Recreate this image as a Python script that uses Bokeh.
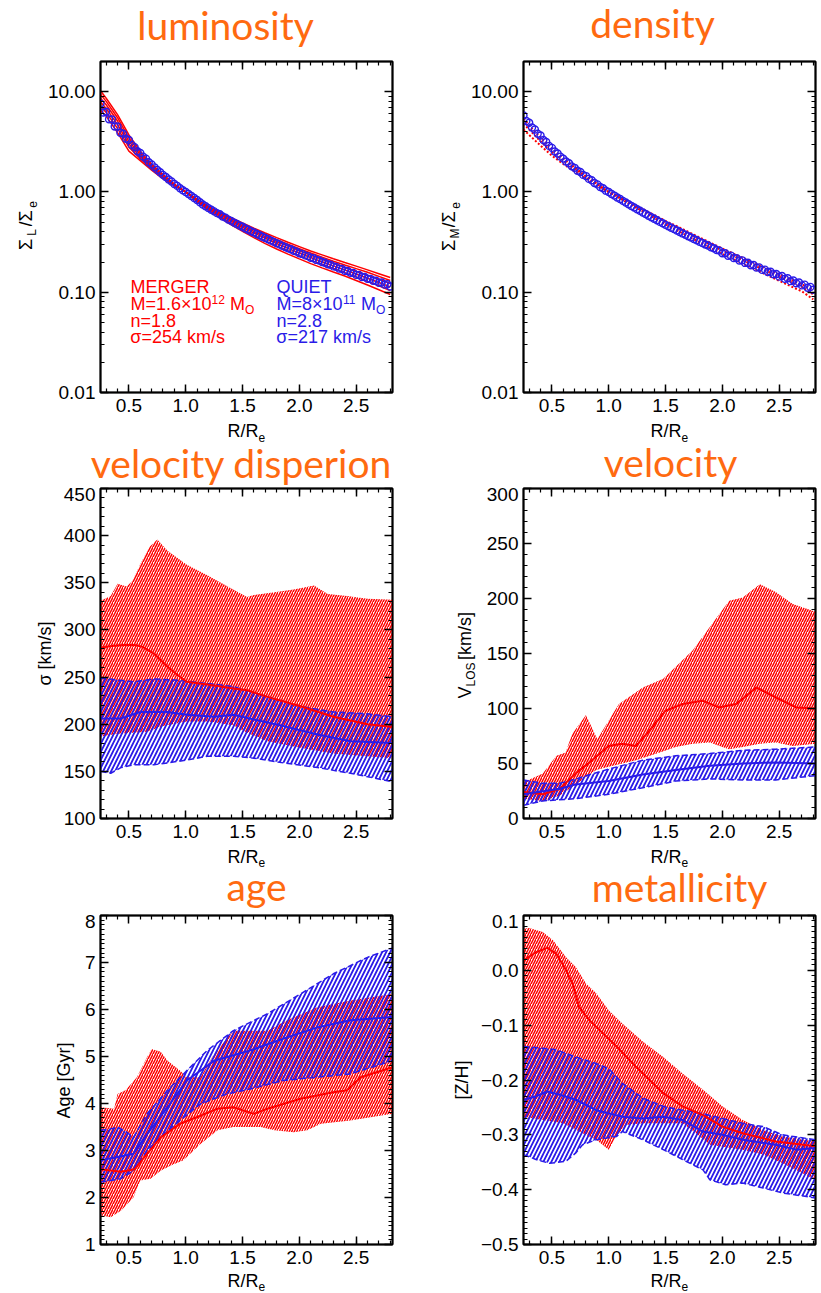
import math
from bokeh.plotting import figure
from bokeh.models import (Range1d, Label, LinearAxis, LogAxis, FixedTicker,
                          SingleIntervalTicker, PrintfTickFormatter, CustomJSTickFormatter)
from bokeh.layouts import row, column
from bokeh.embed import file_html
from bokeh.resources import INLINE

# ---------------------------------------------------------------- data
G = [0.25, 0.3, 0.4, 0.5, 0.6, 0.7, 0.8, 0.9, 1.0, 1.1, 1.2, 1.3, 1.4, 1.5,
     1.6, 1.7, 1.8, 1.9, 2.0, 2.1, 2.2, 2.3, 2.4, 2.5, 2.6, 2.7, 2.8]

# luminosity: merger profiles (red lines)
lum_red = [
    [10.2, 8.6, 5.9, 3.7, 2.55, 1.9, 1.5, 1.2, 1.0, 0.8, 0.66, 0.555, 0.47, 0.405, 0.35, 0.305, 0.27, 0.24, 0.215, 0.193, 0.175, 0.159, 0.145, 0.131, 0.118, 0.106, 0.095],
    [9.4, 8.0, 5.5, 3.45, 2.45, 1.85, 1.47, 1.19, 1.0, 0.81, 0.68, 0.575, 0.49, 0.425, 0.37, 0.325, 0.29, 0.259, 0.232, 0.209, 0.19, 0.173, 0.157, 0.142, 0.128, 0.116, 0.104],
    [8.6, 7.4, 5.1, 3.2, 2.35, 1.8, 1.44, 1.18, 1.0, 0.82, 0.69, 0.59, 0.51, 0.445, 0.39, 0.345, 0.306, 0.274, 0.246, 0.222, 0.201, 0.183, 0.167, 0.152, 0.138, 0.125, 0.113],
    [7.9, 6.8, 4.7, 3.0, 2.25, 1.75, 1.41, 1.17, 1.0, 0.83, 0.70, 0.605, 0.525, 0.46, 0.405, 0.36, 0.321, 0.288, 0.259, 0.234, 0.213, 0.194, 0.177, 0.162, 0.148, 0.135, 0.122],
    [7.2, 6.2, 4.3, 2.8, 2.15, 1.7, 1.38, 1.16, 1.0, 0.84, 0.71, 0.62, 0.54, 0.475, 0.42, 0.375, 0.335, 0.301, 0.272, 0.246, 0.224, 0.204, 0.187, 0.172, 0.158, 0.144, 0.131],
    [6.5, 5.7, 3.9, 2.55, 2.05, 1.65, 1.35, 1.15, 1.0, 0.85, 0.72, 0.63, 0.555, 0.49, 0.435, 0.39, 0.35, 0.315, 0.285, 0.258, 0.236, 0.216, 0.198, 0.182, 0.167, 0.153, 0.14],
]
RA = [0.25, 0.30, 0.35, 0.40, 0.45, 0.50, 0.55, 0.60, 0.65, 0.70, 0.75, 0.80, 0.85, 0.90, 0.95, 1.00, 1.05, 1.10,
      1.15, 1.20, 1.25, 1.30, 1.35, 1.40, 1.45, 1.50, 1.55, 1.60, 1.65, 1.70, 1.75, 1.80, 1.85, 1.90, 1.95, 2.00,
      2.05, 2.10, 2.15, 2.20, 2.25, 2.30, 2.35, 2.40, 2.45, 2.50, 2.55, 2.60, 2.65, 2.70, 2.75, 2.80]
RB = [0.275, 0.325, 0.375, 0.425, 0.475, 0.525, 0.575, 0.625, 0.675, 0.725, 0.775, 0.825, 0.875, 0.925, 0.975,
      1.025, 1.075, 1.125, 1.175, 1.225, 1.275, 1.325, 1.375, 1.425, 1.475, 1.525, 1.575, 1.625, 1.675, 1.725,
      1.775, 1.825, 1.875, 1.925, 1.975, 2.025, 2.075, 2.125, 2.175, 2.225, 2.275, 2.325, 2.375, 2.425, 2.475,
      2.525, 2.575, 2.625, 2.675, 2.725, 2.775]
lum_blue_a = [7.6, 6.3, 5.3, 4.5, 3.8, 3.3, 2.8, 2.45, 2.15, 1.88, 1.66, 1.48, 1.33, 1.2, 1.09, 1.0, 0.91, 0.83,
              0.75, 0.69, 0.64, 0.6, 0.555, 0.515, 0.48, 0.45, 0.42, 0.395, 0.37, 0.348, 0.327, 0.308, 0.29, 0.274,
              0.259, 0.245, 0.233, 0.221, 0.21, 0.2, 0.19, 0.181, 0.172, 0.164, 0.156, 0.149, 0.142, 0.136, 0.13,
              0.124, 0.119, 0.114]
lum_blue_b = [6.2, 5.3, 4.5, 3.9, 3.4, 2.95, 2.55, 2.25, 1.98, 1.76, 1.57, 1.41, 1.27, 1.15, 1.04, 0.955, 0.87,
              0.79, 0.72, 0.665, 0.615, 0.57, 0.53, 0.495, 0.462, 0.433, 0.406, 0.381, 0.358, 0.337, 0.318, 0.3,
              0.283, 0.268, 0.254, 0.241, 0.229, 0.218, 0.207, 0.197, 0.188, 0.179, 0.171, 0.163, 0.156, 0.149,
              0.142, 0.136, 0.13, 0.125, 0.12]

# density
den_red = [
    [4.2, 3.7, 2.9, 2.3, 1.9, 1.6, 1.35, 1.15, 1.0, 0.86, 0.74, 0.64, 0.55, 0.475, 0.415, 0.36, 0.315, 0.275, 0.24, 0.213, 0.188, 0.167, 0.147, 0.13, 0.115, 0.102, 0.085],
    [4.8, 4.2, 3.2, 2.5, 2.05, 1.7, 1.42, 1.18, 1.0, 0.87, 0.76, 0.66, 0.575, 0.5, 0.44, 0.385, 0.338, 0.296, 0.26, 0.23, 0.204, 0.181, 0.161, 0.143, 0.127, 0.113, 0.095],
    [5.4, 4.6, 3.5, 2.7, 2.15, 1.76, 1.45, 1.2, 1.0, 0.88, 0.77, 0.675, 0.59, 0.515, 0.455, 0.4, 0.352, 0.31, 0.273, 0.242, 0.215, 0.191, 0.17, 0.151, 0.134, 0.12, 0.105],
]
den_blue_a = [5.8, 4.9, 4.2, 3.65, 3.15, 2.75, 2.42, 2.15, 1.93, 1.74, 1.58, 1.44, 1.31, 1.19, 1.09, 1.0, 0.92, 0.85,
              0.785, 0.725, 0.672, 0.624, 0.58, 0.54, 0.503, 0.47, 0.44, 0.412, 0.386, 0.362, 0.34, 0.318, 0.299,
              0.281, 0.264, 0.245, 0.231, 0.219, 0.207, 0.196, 0.186, 0.176, 0.167, 0.159, 0.151, 0.143, 0.136,
              0.129, 0.123, 0.117, 0.111, 0.106]
den_blue_b = [5.1, 4.4, 3.8, 3.3, 2.88, 2.53, 2.25, 2.01, 1.8, 1.63, 1.48, 1.35, 1.23, 1.12, 1.03, 0.955, 0.88,
              0.815, 0.755, 0.7, 0.65, 0.603, 0.56, 0.522, 0.487, 0.455, 0.426, 0.399, 0.374, 0.351, 0.33, 0.31,
              0.292, 0.275, 0.26, 0.245, 0.232, 0.219, 0.208, 0.197, 0.187, 0.177, 0.168, 0.16, 0.152, 0.145,
              0.138, 0.131, 0.125, 0.119, 0.113]

# velocity dispersion  [km/s]
disp = dict(
    red_up_R=[0.25, 0.34, 0.40, 0.48, 0.53, 0.60, 0.68, 0.75, 0.84, 1.01, 1.19, 1.37, 1.54, 1.60, 1.78, 1.95, 2.13, 2.25, 2.42, 2.60, 2.82],
    red_up=[331, 336, 349, 346, 352, 370, 388, 396, 384, 369, 358, 346, 335, 337, 340, 343, 347, 338, 336, 333, 332],
    red_lo_R=[0.25, 0.40, 0.54, 0.66, 0.80, 1.01, 1.20, 1.42, 1.54, 1.72, 2.01, 2.30, 2.60, 2.82],
    red_lo=[187, 190, 191, 192, 198, 203, 203, 199, 191, 182, 175, 169, 166, 164],
    red_med_R=[0.25, 0.35, 0.45, 0.55, 0.62, 0.72, 0.84, 0.93, 1.01, 1.19, 1.42, 1.54, 1.72, 2.01, 2.30, 2.60, 2.82],
    red_med=[281, 283, 284, 284, 282, 275, 261, 252, 245, 242, 238, 236, 229, 219, 208, 200, 197],
    blue_up_R=[0.25, 0.54, 0.72, 0.90, 1.13, 1.42, 1.72, 2.01, 2.30, 2.60, 2.82],
    blue_up=[249, 245, 248, 247, 244, 240, 229, 219, 213, 211, 208],
    blue_lo_R=[0.25, 0.34, 0.43, 0.54, 0.72, 0.84, 1.01, 1.19, 1.42, 1.60, 1.86, 2.16, 2.45, 2.82],
    blue_lo=[150, 148, 154, 157, 157, 159, 162, 166, 166, 164, 159, 154, 148, 139],
    blue_med_R=[0.25, 0.43, 0.60, 0.84, 1.01, 1.25, 1.42, 1.60, 1.86, 2.16, 2.45, 2.82],
    blue_med=[206, 206, 213, 213, 210, 208, 210, 205, 198, 189, 182, 180],
)

# line-of-sight velocity [km/s]
vel = dict(
    red_up_R=[0.25, 0.42, 0.54, 0.62, 0.68, 0.80, 0.90, 1.00, 1.09, 1.30, 1.48, 1.59, 1.74, 1.89, 2.06, 2.18, 2.33, 2.47, 2.62, 2.82],
    red_up=[33, 41, 57, 60, 77, 94, 72, 89, 104, 119, 127, 138, 153, 174, 198, 201, 213, 206, 195, 188],
    red_lo_R=[0.25, 0.42, 0.57, 0.71, 0.89, 1.00, 1.24, 1.45, 1.59, 1.74, 1.89, 2.00, 2.06, 2.18, 2.33, 2.47, 2.62, 2.82],
    red_lo=[18, 16, 21, 31, 44, 47, 53, 60, 65, 68, 69, 65, 63, 65, 68, 69, 66, 68],
    red_med_R=[0.25, 0.42, 0.57, 0.71, 0.83, 1.00, 1.12, 1.24, 1.36, 1.50, 1.65, 1.83, 1.97, 2.12, 2.30, 2.47, 2.65, 2.82],
    red_med=[24, 22, 27, 41, 51, 66, 68, 66, 80, 98, 104, 107, 101, 104, 119, 110, 101, 100],
    blue_up_R=[0.25, 0.42, 0.57, 0.71, 1.00, 1.30, 1.59, 1.89, 2.18, 2.47, 2.82],
    blue_up=[35, 32, 32, 36, 45, 53, 57, 59, 62, 63, 65],
    blue_lo_R=[0.25, 0.42, 0.71, 1.00, 1.30, 1.59, 1.89, 2.18, 2.47, 2.82],
    blue_lo=[12, 16, 18, 22, 28, 34, 36, 35, 35, 39],
    blue_med_R=[0.25, 0.57, 0.71, 1.00, 1.30, 1.59, 1.89, 2.18, 2.47, 2.82],
    blue_med=[22, 27, 31, 34, 40, 44, 48, 50, 51, 50],
)

# age [Gyr]
age = dict(
    red_up_R=[0.25, 0.37, 0.40, 0.47, 0.57, 0.66, 0.70, 0.78, 0.84, 0.95, 1.01, 1.13, 1.25, 1.42, 1.72, 1.89, 2.16, 2.45, 2.82],
    red_up=[3.92, 3.89, 4.2, 4.28, 4.56, 4.99, 5.16, 5.1, 4.91, 4.70, 4.56, 4.56, 5.06, 5.55, 5.55, 5.77, 6.05, 6.19, 6.33],
    red_lo_R=[0.25, 0.34, 0.43, 0.54, 0.60, 0.69, 0.78, 0.87, 0.98, 1.13, 1.28, 1.42, 1.66, 1.78, 1.95, 2.07, 2.19, 2.45, 2.82],
    red_lo=[1.62, 1.58, 1.72, 2.0, 2.36, 2.4, 2.57, 2.68, 2.79, 3.14, 3.43, 3.5, 3.5, 3.43, 3.39, 3.43, 3.57, 3.64, 3.78],
    red_med_R=[0.25, 0.43, 0.55, 0.65, 0.78, 0.95, 1.13, 1.28, 1.42, 1.60, 1.72, 2.01, 2.30, 2.42, 2.54, 2.82],
    red_med=[2.6, 2.55, 2.6, 2.9, 3.28, 3.57, 3.74, 3.89, 3.92, 3.78, 3.89, 4.1, 4.24, 4.28, 4.56, 4.77],
    blue_up_R=[0.25, 0.34, 0.40, 0.48, 0.54, 0.66, 0.84, 1.01, 1.19, 1.42, 1.72, 2.01, 2.30, 2.60, 2.82],
    blue_up=[3.43, 3.46, 3.5, 3.39, 3.28, 3.78, 4.28, 4.70, 5.13, 5.55, 5.91, 6.33, 6.76, 7.11, 7.31],
    blue_lo_R=[0.25, 0.34, 0.43, 0.54, 0.66, 0.78, 0.95, 1.13, 1.36, 1.57, 1.86, 2.16, 2.45, 2.82],
    blue_lo=[2.33, 2.36, 2.4, 2.57, 3.0, 3.28, 3.64, 3.99, 4.2, 4.31, 4.49, 4.56, 4.63, 4.91],
    blue_med_R=[0.25, 0.40, 0.54, 0.66, 0.84, 1.01, 1.25, 1.57, 1.86, 2.16, 2.45, 2.82],
    blue_med=[2.79, 2.86, 2.93, 3.35, 3.92, 4.49, 4.91, 5.13, 5.38, 5.62, 5.77, 5.84],
)

# metallicity [Z/H]
met = dict(
    red_up_R=[0.25, 0.30, 0.42, 0.51, 0.625, 0.71, 0.80, 0.89, 1.0, 1.12, 1.30, 1.48, 1.65, 1.83, 2.0, 2.18, 2.36, 2.53, 2.82],
    red_up=[0.076, 0.077, 0.07, 0.055, 0.024, 0.006, -0.024, -0.042, -0.073, -0.097, -0.13, -0.158, -0.188, -0.218, -0.248, -0.273, -0.291, -0.303, -0.312],
    red_lo_R=[0.25, 0.42, 0.60, 0.77, 0.89, 1.0, 1.065, 1.15, 1.30, 1.48, 1.65, 1.77, 1.89, 2.18, 2.36, 2.53, 2.82],
    red_lo=[-0.267, -0.273, -0.279, -0.297, -0.309, -0.327, -0.303, -0.282, -0.279, -0.279, -0.279, -0.297, -0.318, -0.327, -0.336, -0.352, -0.382],
    red_med_R=[0.25, 0.36, 0.46, 0.54, 0.625, 0.68, 0.74, 0.83, 0.95, 1.07, 1.24, 1.36, 1.48, 1.65, 1.83, 2.0, 2.18, 2.47, 2.82],
    red_med=[0.018, 0.033, 0.041, 0.03, 0.0, -0.024, -0.067, -0.091, -0.115, -0.139, -0.176, -0.2, -0.224, -0.248, -0.264, -0.285, -0.297, -0.312, -0.321],
    blue_up_R=[0.25, 0.42, 0.54, 0.71, 0.89, 1.0, 1.12, 1.30, 1.48, 1.65, 1.80, 2.0, 2.18, 2.36, 2.53, 2.82],
    blue_up=[-0.139, -0.142, -0.145, -0.158, -0.17, -0.179, -0.206, -0.233, -0.248, -0.255, -0.26, -0.27, -0.279, -0.285, -0.3, -0.309],
    blue_lo_R=[0.25, 0.36, 0.48, 0.625, 0.71, 0.77, 0.89, 1.07, 1.12, 1.30, 1.48, 1.65, 1.83, 1.89, 2.03, 2.18, 2.36, 2.53, 2.82],
    blue_lo=[-0.336, -0.345, -0.352, -0.348, -0.333, -0.318, -0.309, -0.303, -0.294, -0.309, -0.327, -0.345, -0.364, -0.382, -0.391, -0.388, -0.397, -0.406, -0.415],
    blue_med_R=[0.25, 0.36, 0.46, 0.57, 0.71, 0.89, 1.12, 1.30, 1.48, 1.65, 1.83, 2.0, 2.18, 2.47, 2.65, 2.82],
    blue_med=[-0.236, -0.23, -0.221, -0.227, -0.236, -0.255, -0.267, -0.27, -0.267, -0.273, -0.294, -0.3, -0.309, -0.318, -0.327, -0.324],
)

titles = ["luminosity", "density", "velocity disperion", "velocity", "age", "metallicity"]
LOG_TICKS = [0.01, 0.1, 1.0, 10.0]
LOG_MINOR = [0.02, 0.03, 0.04, 0.05, 0.06, 0.07, 0.08, 0.09, 0.2, 0.3, 0.4, 0.5, 0.6, 0.7, 0.8, 0.9,
             2, 3, 4, 5, 6, 7, 8, 9, 20]
merger_text = ["MERGER", "M=1.6×10", "12", "n=1.8", "σ=254 km/s"]
quiet_text = ["QUIET", "M=8×10", "11", "n=2.8", "σ=217 km/s"]

# ---------------------------------------------------------------- style
RED = "#FF0000"
BLUE = "#2A1BE8"
ORANGE = "#FF6A10"
FONT = "Liberation Sans"
TFONT = "Lato"
X_RANGE = (0.25, 2.82)
FW = 292
W = 821
MID = 0.3465     # baseline -> box middle, Liberation Sans (em)
TMID = 0.387     # same for Lato
HALF = math.pi / 2

CW = {'R': .722, '/': .278, 'Σ': .62, 'L': .556, 'e': .556, 'M': .833, 'V': .667, 'O': .778, 'S': .667,
      ' ': .278, '[': .278, ']': .278, 'k': .5, 'm': .833, 's': .5, 'σ': .6, 'A': .667, 'g': .556,
      'G': .778, 'y': .5, 'r': .333, 'Z': .611, 'H': .722, '=': .584, '.': .278, '×': .584, 'n': .556,
      'E': .667, 'Q': .778, 'U': .722, 'I': .278, 'T': .611}


def text_w(t, size):
    return sum(CW.get(c, .556) for c in t) * size


def rich(p, pieces, dx, dy, color="black"):
    """Horizontal composite text; (dx, dy) = baseline start in px from the range start."""
    x0 = p.x_range.start
    y0 = p.y_range.start
    pos = 0.0
    for t, s, sh in pieces:
        lead = text_w(t[:len(t) - len(t.lstrip(" "))], s)
        core = t.strip(" ")
        along = pos + lead + text_w(core, s) / 2
        p.add_layout(Label(x=x0, y=y0, x_offset=dx + along, y_offset=dy + sh + MID * s, text=core,
                           text_font=FONT, text_font_size=f"{s}px", text_color=color,
                           text_align="center", text_baseline="middle"))
        pos += text_w(t, s)


def strip(w, h):
    s = figure(width=w, height=h, x_range=Range1d(0, w), y_range=Range1d(0, h), output_backend="svg",
               toolbar_location=None, title=None, min_border=0, x_axis_type=None, y_axis_type=None,
               outline_line_color=None, background_fill_color="white", border_fill_color="white")
    return s


def ystrip(w, h, pieces, xb, yc):
    """Vertical (rotated) axis title: one sub-figure per text piece, stacked bottom-to-top.
    xb = baseline x, yc = centre of the title measured from the strip top."""
    lens = [max(12, round(text_w(t, s))) for t, s, _ in pieces]
    total = sum(lens)
    top = int(round(yc - total / 2))
    bottom = h - top - total
    parts = [strip(w, top)]
    for (t, s, sh), L in reversed(list(zip(pieces, lens))):
        f = strip(w, L)
        lead = text_w(t[:len(t) - len(t.lstrip(" "))], s)
        core = t.strip(" ")
        cw = text_w(core, s)
        yy = lead + cw / 2 if L > lead + cw + 0.5 and lead > 0 else L / 2
        f.add_layout(Label(x=xb - sh - MID * s, y=yy, text=core, angle=HALF,
                           text_font=FONT, text_font_size=f"{s}px", text_color="black",
                           text_align="center", text_baseline="middle"))
        parts.append(f)
    parts.append(strip(w, bottom))
    return column(*parts)


def style_axis(ax, labels=True):
    ax.axis_line_color = "black"
    ax.axis_line_width = 1.5
    ax.major_tick_in = 8
    ax.major_tick_out = 0
    ax.minor_tick_in = 4
    ax.minor_tick_out = 0
    ax.major_tick_line_color = "black"
    ax.minor_tick_line_color = "black"
    ax.major_tick_line_width = 1.5
    ax.minor_tick_line_width = 1.2
    ax.major_label_text_font = FONT
    ax.major_label_text_font_size = "19px"
    ax.major_label_text_color = "black"
    if not labels:
        ax.formatter = CustomJSTickFormatter(code="return '';")
        ax.major_label_text_font_size = "0px"
        ax.major_label_standoff = 0


def make_ticker(kind):
    if kind == "x":
        return SingleIntervalTicker(interval=0.5, num_minor_ticks=5)
    if kind == "log":
        return FixedTicker(ticks=LOG_TICKS, minor_ticks=LOG_MINOR)
    return SingleIntervalTicker(interval=kind[0], num_minor_ticks=kind[1])


def make_panel(left, right, top, frame_h, yr, ykind, yfmt):
    log = ykind == "log"
    p = figure(frame_width=FW, frame_height=frame_h, x_range=Range1d(*X_RANGE), y_range=Range1d(*yr),
               y_axis_type="log" if log else "linear", output_backend="svg", toolbar_location=None,
               title=None, min_border_left=left, min_border_right=right, min_border_top=top,
               min_border_bottom=28, background_fill_color="white", border_fill_color="white")
    p.xgrid.visible = False
    p.ygrid.visible = False
    p.outline_line_color = "black"
    p.outline_line_width = 2
    xa = p.xaxis[0]
    xa.ticker = make_ticker("x")
    xa.formatter = PrintfTickFormatter(format="%.1f")
    style_axis(xa)
    xa.major_label_standoff = 6
    ya = p.yaxis[0]
    ya.ticker = make_ticker(ykind)
    if yfmt is not None:
        ya.formatter = yfmt
    style_axis(ya)
    ya.major_label_standoff = 5
    top_ax = LinearAxis(ticker=make_ticker("x"))
    style_axis(top_ax, labels=False)
    p.add_layout(top_ax, "above")
    right_ax = LogAxis(ticker=make_ticker(ykind)) if log else LinearAxis(ticker=make_ticker(ykind))
    style_axis(right_ax, labels=False)
    p.add_layout(right_ax, "right")
    return p


def band(p, d):
    p.patch(d["red_up_R"] + d["red_lo_R"][::-1], d["red_up"] + d["red_lo"][::-1],
            fill_color=None, line_color=None, hatch_pattern="/", hatch_color=RED,
            hatch_weight=1.5, hatch_scale=5)
    p.patch(d["blue_up_R"] + d["blue_lo_R"][::-1], d["blue_up"] + d["blue_lo"][::-1],
            fill_color=None, line_color=None, hatch_pattern="/", hatch_color=BLUE,
            hatch_weight=1.8, hatch_scale=8)
    p.line(d["blue_up_R"], d["blue_up"], line_color=BLUE, line_width=1.5, line_dash="6 3")
    p.line(d["blue_lo_R"], d["blue_lo"], line_color=BLUE, line_width=1.5, line_dash="6 3")
    p.line(d["red_med_R"], d["red_med"], line_color=RED, line_width=2)
    p.line(d["blue_med_R"], d["blue_med"], line_color=BLUE, line_width=2)


fmt_met = CustomJSTickFormatter(code="""
const v = Math.round(tick * 10) / 10;
if (Math.abs(v) < 1e-9) { return '0.0'; }
return (v < 0 ? '\u2212' : '') + Math.abs(v).toFixed(1);
""")

# ---------------------------------------------------------------- panels
p1 = make_panel(56, 18, 6, 331, (0.01, 20), "log", PrintfTickFormatter(format="%.2f"))
p2 = make_panel(58, 6, 6, 331, (0.01, 20), "log", PrintfTickFormatter(format="%.2f"))
for ys in lum_red:
    p1.line(G, ys, line_color=RED, line_width=1.5)
p1.scatter(RA, lum_blue_a, marker="circle", size=7, fill_color=None, line_color=BLUE, line_width=1.4)
p1.scatter(RB, lum_blue_b, marker="circle", size=7, fill_color=None, line_color=BLUE, line_width=1.4)
for ys in den_red:
    p2.line(G, ys, line_color=RED, line_width=2, line_dash="2 2")
p2.scatter(RA, den_blue_a, marker="circle", size=7, fill_color=None, line_color=BLUE, line_width=1.4)
p2.scatter(RB, den_blue_b, marker="circle", size=7, fill_color=None, line_color=BLUE, line_width=1.4)

p3 = make_panel(42, 18, 1, 330, (100, 450), (50, 5), None)
p4 = make_panel(41, 6, 1, 330, (0, 300), (50, 5), None)
band(p3, disp)
band(p4, vel)

p5 = make_panel(22, 18, 1, 329, (1, 8), (1, 10), None)
p6 = make_panel(47, 6, 1, 329, (-0.5, 0.1), (0.1, 10), fmt_met)
band(p5, age)
band(p6, met)

# legend text in the luminosity panel
for dx, txt, col in [(30, merger_text, RED), (176, quiet_text, BLUE)]:
    rich(p1, [(txt[0], 18, 0)], dx, 99, color=col)
    rich(p1, [(txt[1], 18, 0), (txt[2], 12, 7), (" M", 18, 0), ("O", 12, -4)], dx, 82, color=col)
    rich(p1, [(txt[3], 18, 0)], dx, 65.5, color=col)
    rich(p1, [(txt[4], 18, 0)], dx, 49, color=col)

# ---------------------------------------------------------------- text strips
XT = [("R/R", 18, 0), ("e", 12, -4)]


def title(s, text, x, y_base):
    s.add_layout(Label(x=x, y=y_base + TMID * 39, text=text, text_font=TFONT, text_font_size="39px",
                       text_color=ORANGE, text_align="center", text_baseline="middle"))


s0 = strip(W, 55)
title(s0, titles[0], 225, 15)
title(s0, titles[1], 652, 17)

s1 = strip(W, 67)
rich(s1, XT, 227, 50)
rich(s1, XT, 650, 50)
title(s1, titles[2], 241, 9)
title(s1, titles[3], 670, 10)

s2 = strip(W, 68)
rich(s2, XT, 227, 51.5)
rich(s2, XT, 650, 51.5)
title(s2, titles[4], 256, 13)
title(s2, titles[5], 679, 12)

s3 = strip(W, 21)
rich(s3, XT, 227, 6.5)
rich(s3, XT, 650, 6.5)

yl1 = ystrip(44, 365, [("Σ", 18, 0), ("L", 12, -4), ("/Σ", 18, 0), ("e", 12, -4)], 32, 169)
yr1 = ystrip(55, 365, [("Σ", 18, 0), ("M", 12, -4), ("/Σ", 18, 0), ("e", 12, -4)], 45, 170)
yl2 = ystrip(58, 359, [("σ [km/s]", 18, 0)], 51, 166)
yr2 = ystrip(72, 359, [("V", 18, 0), ("LOS", 12, -4), (" [km/s]", 18, 0)], 61, 166)
yl3 = ystrip(78, 358, [("Age [Gyr]", 18, 0)], 70, 166)
yr3 = ystrip(66, 358, [("[Z/H]", 18, 0)], 58, 166)

layout = column(
    s0,
    row(yl1, p1, yr1, p2),
    s1,
    row(yl2, p3, yr2, p4),
    s2,
    row(yl3, p5, yr3, p6),
    s3,
)
open("out.html", "w", encoding="utf-8").write(file_html(layout, INLINE))
